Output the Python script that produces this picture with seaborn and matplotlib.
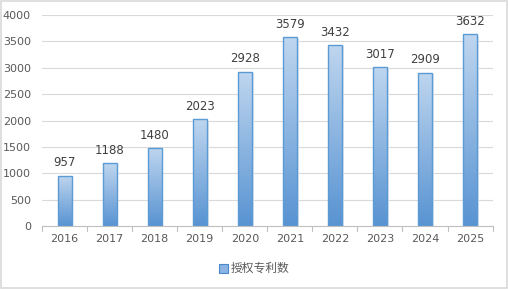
import numpy as np
import pandas as pd
import matplotlib
matplotlib.use("Agg")
import matplotlib.pyplot as plt
import seaborn as sns
from matplotlib.colors import LinearSegmentedColormap
from matplotlib.patches import Rectangle

years = ["2016", "2017", "2018", "2019", "2020", "2021", "2022", "2023", "2024", "2025"]
values = [957, 1188, 1480, 2023, 2928, 3579, 3432, 3017, 2909, 3632]
series_name = "授权专利数"
yticks = [0, 500, 1000, 1500, 2000, 2500, 3000, 3500, 4000]

sns.set_theme(style="white")
plt.rcParams['font.family'] = ['DejaVu Sans', 'Noto Sans CJK SC']

df = pd.DataFrame({"year": years, "value": values})

fig = plt.figure(figsize=(5.08, 2.89), dpi=100)
ax = fig.add_axes([0.0827, 0.218, 0.887, 0.730])

sns.barplot(data=df, x="year", y="value", ax=ax, width=0.31,
            color="#5b9bd5", edgecolor="#5b9bd5", linewidth=1.0)

cmap = LinearSegmentedColormap.from_list("g", ["#5893d2", "#bfd6ef"])
grad = np.linspace(0, 1, 256).reshape(-1, 1)
for p in ax.patches:
    x0, y0 = p.get_x(), p.get_y()
    w, h = p.get_width(), p.get_height()
    p.set_facecolor("none")
    # subtle shadow
    ax.add_patch(Rectangle((x0 + 0.04, y0), w, h - 25, facecolor="#dfe6ee",
                           edgecolor="none", zorder=p.get_zorder() - 0.3))
    im = ax.imshow(grad, cmap=cmap, aspect="auto", origin="lower",
                   extent=[x0, x0 + w, y0, y0 + h], zorder=p.get_zorder() - 0.1)
    im.set_clip_path(p)
    ax.text(x0 + w / 2, y0 + h + 120, f"{int(h)}", ha="center", va="bottom",
            fontsize=8.5, color="#404040")

ax.set_xlim(-0.5, len(years) - 0.5)
ax.set_ylim(0, 4000)
ax.set_yticks(yticks)
ax.set_yticklabels([str(t) for t in yticks], fontsize=8, color="#595959")
ax.set_xticks(range(len(years)))
ax.set_xticklabels(years, fontsize=8, color="#595959")
ax.tick_params(axis="x", length=0, pad=6)
ax.tick_params(axis="y", length=0, pad=8)
for t in yticks[1:]:
    ax.axhline(t, color="#d9d9d9", linewidth=0.8, zorder=0)
ax.set_xlabel("")
ax.set_ylabel("")
for s in ["top", "right", "left"]:
    ax.spines[s].set_visible(False)
ax.spines["bottom"].set_color("#bfbfbf")
ax.spines["bottom"].set_linewidth(0.8)
for i in range(len(years) + 1):
    ax.plot([i - 0.5, i - 0.5], [0, -0.025], color="#bfbfbf", linewidth=0.8,
            transform=ax.get_xaxis_transform(), clip_on=False)

# legend
handle = Rectangle((0, 0), 1, 1, facecolor="#8db4e2", edgecolor="#4a88cc", linewidth=0.8)
leg = fig.legend([handle], [series_name], loc="center", bbox_to_anchor=(0.5, 0.07),
                 frameon=False, handlelength=0.8, handleheight=0.8, handletextpad=0.2,
                 prop={"family": ["Noto Sans CJK SC"], "size": 8.5})
for t in leg.get_texts():
    t.set_color("#595959")

fig.patches.append(Rectangle((0.001, 0.002), 0.997, 0.995, transform=fig.transFigure,
                             fill=False, edgecolor="#d9d9d9", linewidth=1.2))

fig.savefig("out.png", dpi=100)
